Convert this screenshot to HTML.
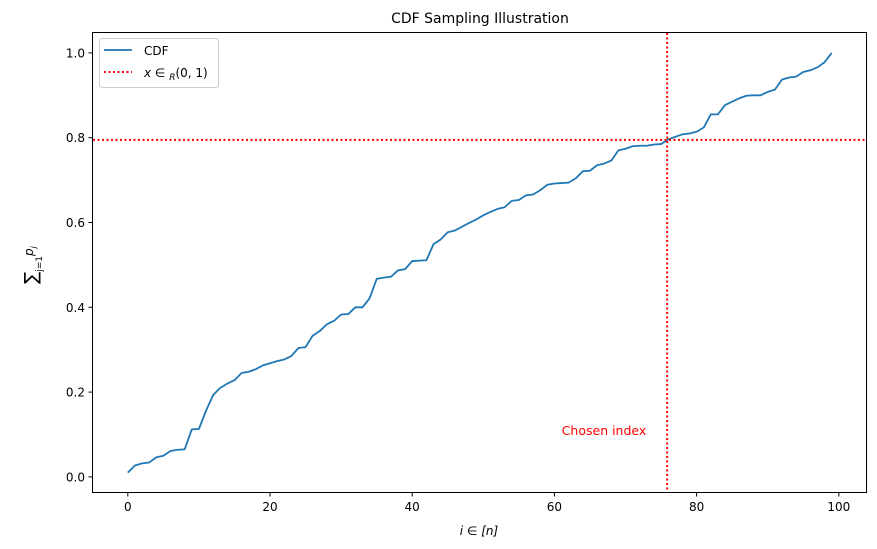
<!DOCTYPE html>
<html><head><meta charset="utf-8"><style>
body{margin:0;background:#fff;}
svg{display:block;font-family:"DejaVu Sans","Liberation Sans",sans-serif;}
</style></head><body>
<svg id="chart" width="877" height="549" viewBox="0 0 877 549">
<text x="480" y="23" font-size="14" text-anchor="middle">CDF Sampling Illustration</text>
<g id="grid"></g>
<g id="plot"></g>
<rect x="92.5" y="32.5" width="774" height="460" fill="none" stroke="#000" stroke-width="1"/>
<text x="479" y="535" font-size="12" text-anchor="middle" font-style="italic">i ∈ [n]</text>
<g transform="translate(37,265) rotate(-90)">
<text x="0" y="0" font-size="18" text-anchor="middle">∑<tspan font-size="9" dy="5">j=1</tspan><tspan font-size="12" font-style="italic" dy="-9">p</tspan><tspan font-size="8" font-style="italic" dy="3">j</tspan></text>
</g>
<text x="604" y="435" font-size="12.5" fill="red" text-anchor="middle">Chosen index</text>
<g>
<rect x="99.5" y="38.5" width="119" height="49" rx="3" fill="#fff" fill-opacity="0.8" stroke="#ccc"/>
<line x1="104" y1="50" x2="132" y2="50" stroke="#1f77b4" stroke-width="1.8"/>
<text x="144" y="55" font-size="12">CDF</text>
<line x1="104" y1="72" x2="132" y2="72" stroke="red" stroke-width="2" stroke-dasharray="2,2.5"/>
<text x="144" y="77" font-size="12"><tspan font-style="italic">x</tspan> ∈ <tspan font-size="9" font-style="italic" dy="3">R</tspan><tspan dy="-3">(0, 1)</tspan></text>
</g>
</svg>
<script>
const cdfValues=[0.010,0.027,0.032,0.034,0.046,0.050,0.061,0.064,0.065,0.112,0.113,0.156,0.193,0.210,0.220,0.228,0.245,0.248,0.254,0.263,0.268,0.273,0.277,0.285,0.304,0.306,0.333,0.344,0.360,0.368,0.383,0.384,0.400,0.400,0.421,0.467,0.470,0.472,0.487,0.490,0.509,0.510,0.511,0.549,0.560,0.577,0.581,0.590,0.599,0.607,0.617,0.625,0.632,0.636,0.651,0.653,0.664,0.666,0.676,0.689,0.692,0.693,0.694,0.704,0.721,0.722,0.735,0.739,0.746,0.770,0.774,0.780,0.781,0.781,0.784,0.785,0.796,0.802,0.808,0.810,0.814,0.824,0.855,0.855,0.877,0.885,0.893,0.899,0.900,0.900,0.908,0.913,0.937,0.942,0.944,0.955,0.959,0.966,0.978,1.000];
const xTicks=[0,20,40,60,80,100];
const yTicks=[0.0,0.2,0.4,0.6,0.8,1.0];
const thresholdValue=0.795;
const chosenIndex=76;
const NS="http://www.w3.org/2000/svg";
const X=i=>127.8+i*7.11;
const Y=v=>476.9-v*424;
const plot=document.getElementById('plot');
const g=document.getElementById('grid');
function mk(t,a,p){const e=document.createElementNS(NS,t);for(const k in a)e.setAttribute(k,a[k]);p.appendChild(e);return e;}
xTicks.forEach(t=>{
 const l=mk('line',{x1:X(t),x2:X(t),y1:493,y2:496.5,stroke:'#000'},g);
 
 
 const tx=mk('text',{x:X(t),y:511,'font-size':12,'text-anchor':'middle'},g);tx.textContent=t;
 
 
});
yTicks.forEach(t=>{
 const l=mk('line',{x1:88.5,x2:92.5,y1:Y(t),y2:Y(t),stroke:'#000'},g);
 
 
 const tx=mk('text',{x:85,y:Y(t)+4.5,'font-size':12,'text-anchor':'end'},g);tx.textContent=t.toFixed(1);
 
 
});
const line=mk('polyline',{points:cdfValues.map((v,i)=>X(i)+','+Y(v)).join(' '),fill:'none',stroke:'#1f77b4','stroke-width':1.8,'stroke-linejoin':'round'},plot);


const h=mk('line',{x1:93,x2:866,y1:Y(thresholdValue),y2:Y(thresholdValue),stroke:'red','stroke-width':2,'stroke-dasharray':'2,2.5'},plot);


const v=mk('line',{x1:X(chosenIndex)-1,x2:X(chosenIndex)-1,y1:33,y2:492,stroke:'red','stroke-width':2,'stroke-dasharray':'2,2.5'},plot);


</script>
</body></html>
